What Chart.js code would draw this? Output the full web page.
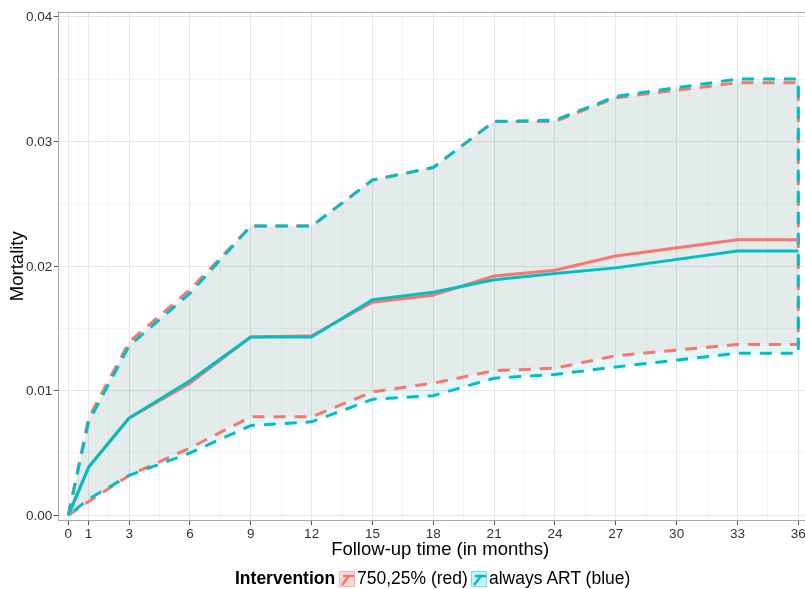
<!DOCTYPE html>
<html>
<head>
<meta charset="utf-8">
<script src="https://cdn.jsdelivr.net/npm/chart.js@4.4.1/dist/chart.umd.min.js"></script>
<style>
html,body{margin:0;padding:0;background:#fff;overflow:hidden}
#wrap{position:relative;width:805px;height:589px;overflow:hidden}
#c{position:absolute;left:0;top:0}
.lg{position:absolute;font-family:'Liberation Sans',Arial,sans-serif;font-size:17.5px;color:#000;white-space:nowrap;line-height:1}
.lg.title{font-weight:bold}
.key{position:absolute}
</style>
</head>
<body>
<div id="wrap">
<canvas id="c" width="822" height="589"></canvas>
<div id="legend"></div>
</div>
<script>
// ---- data ----
const months    = [0, 1, 3, 6, 9, 12, 15, 18, 21, 24, 27, 33, 36];
const redMean   = [0, 0.00385, 0.0078, 0.0106, 0.0143, 0.0144, 0.0171, 0.01766, 0.0192, 0.01966, 0.0208, 0.0221, 0.0221];
const blueMean  = [0, 0.00385, 0.0078, 0.0108, 0.0143, 0.0143, 0.0173, 0.0179, 0.0189, 0.0194, 0.01985, 0.0212, 0.0212];
const redUpper  = [0, 0.0078, 0.0139, 0.0181, 0.0232, 0.0232, 0.0269, 0.0279, 0.0316, 0.0316, 0.0335, 0.0347, 0.0347];
const blueUpper = [0, 0.0075, 0.0136, 0.0178, 0.0232, 0.0232, 0.0269, 0.0279, 0.0316, 0.0317, 0.0336, 0.0350, 0.0350];
const redLower  = [0, 0.0011, 0.0032, 0.0054, 0.0079, 0.0079, 0.0099, 0.0106, 0.0116, 0.0118, 0.0128, 0.0137, 0.0137];
const blueLower = [0, 0.0013, 0.0032, 0.0050, 0.0072, 0.0075, 0.0093, 0.0096, 0.0110, 0.0113, 0.0119, 0.0130, 0.0130];

const seriesNames = ['750,25% (red)', 'always ART (blue)'];
const legendTitle = 'Intervention';
const xTickLabels = [0, 1, 3, 6, 9, 12, 15, 18, 21, 24, 27, 30, 33, 36];
const yTickLabels = [0, 0.01, 0.02, 0.03, 0.04];
const xAxisTitle = 'Follow-up time (in months)';
const yAxisTitle = 'Mortality';

// ---- styling ----
const FONT = "'Liberation Sans', Arial, sans-serif";
const RED = '#F8766D', BLUE = '#00BFC4';
const RED_FILL = 'rgba(248,118,109,0.11)', BLUE_FILL = 'rgba(0,191,196,0.11)';

function withMinor(major) {
  const out = [];
  major.forEach((v, i) => {
    out.push({value: v, isMajor: true});
    if (i < major.length - 1) out.push({value: (v + major[i + 1]) / 2, isMajor: false});
  });
  return out;
}
const pts = (xs, ys) => xs.map((x, i) => ({x: x, y: ys[i]}));
const ribbon = (up, lo) => pts(months, up).concat(pts(months, lo).reverse());

const lineBase = {pointRadius: 0, tension: 0, borderWidth: 3, borderCapStyle: 'butt', borderJoinStyle: 'round'};

const datasets = [
  Object.assign({}, lineBase, {label: seriesNames[0] + ' band', data: ribbon(redUpper, redLower), borderColor: RED, borderDash: [12, 9], fill: 'shape', backgroundColor: RED_FILL, order: 3}),
  Object.assign({}, lineBase, {label: seriesNames[1] + ' band', data: ribbon(blueUpper, blueLower), borderColor: BLUE, borderDash: [12, 9], fill: 'shape', backgroundColor: BLUE_FILL, order: 2}),
  Object.assign({}, lineBase, {label: seriesNames[0], data: pts(months, redMean), borderColor: RED, fill: false, order: 1}),
  Object.assign({}, lineBase, {label: seriesNames[1], data: pts(months, blueMean), borderColor: BLUE, fill: false, order: 0})
];

const gridColor = c => (c.tick && c.tick.isMajor) ? '#e6e6e6' : '#f4f4f4';
const tickColor = c => (c.tick && c.tick.isMajor) ? '#555555' : 'rgba(0,0,0,0)';

const topBorder = {
  id: 'topBorder',
  afterDraw(chart) {
    const {ctx, chartArea: a} = chart;
    ctx.save();
    ctx.strokeStyle = '#a8a8a8';
    ctx.lineWidth = 1;
    ctx.beginPath();
    const y = Math.round(a.top) + 0.5;
    ctx.moveTo(a.left, y);
    ctx.lineTo(a.right, y);
    ctx.stroke();
    ctx.restore();
  }
};

new Chart(document.getElementById('c'), {
  type: 'line',
  data: {datasets: datasets},
  plugins: [topBorder],
  options: {
    responsive: false,
    animation: false,
    devicePixelRatio: 1,
    layout: {padding: {left: 0, top: 11.7, right: 0, bottom: 27.9}},
    plugins: {legend: {display: false}, tooltip: {enabled: false}, filler: {drawTime: 'beforeDatasetsDraw'}},
    scales: {
      x: {
        type: 'linear', min: -0.493, max: 37.169,
        afterBuildTicks: s => { s.ticks = withMinor(xTickLabels); },
        afterFit: s => { s.height = 40.4; s.paddingLeft = 0; s.paddingRight = 0; },
        ticks: {autoSkip: false, maxRotation: 0, padding: 0.7, color: '#333', font: {family: FONT, size: 13.5},
          callback: (v, i, t) => t[i].isMajor ? String(v) : ''},
        grid: {color: gridColor, lineWidth: 1, tickLength: 4.5, tickColor: tickColor, tickWidth: 1},
        border: {display: true, color: '#a8a8a8', width: 1},
        title: {display: true, text: xAxisTitle, color: '#000', font: {family: FONT, size: 18.5}, padding: {top: 0, bottom: 0}}
      },
      y: {
        type: 'linear', min: -0.000433, max: 0.040401,
        afterBuildTicks: s => { s.ticks = withMinor(yTickLabels); },
        afterFit: s => { s.width = 58.3; s.paddingTop = 0; s.paddingBottom = 0; },
        ticks: {autoSkip: false, padding: 1.5, labelOffset: 1, color: '#333', font: {family: FONT, size: 13.5},
          callback: (v, i, t) => t[i].isMajor ? v.toFixed(2) : ''},
        grid: {color: gridColor, lineWidth: 1, tickLength: 4.5, tickColor: tickColor, tickWidth: 1},
        border: {display: true, color: '#a8a8a8', width: 1},
        title: {display: true, text: yAxisTitle, color: '#000', font: {family: FONT, size: 18.5}, padding: {top: 6.5, bottom: 0}}
      }
    }
  }
});

// ---- legend (HTML text) ----
const legend = document.getElementById('legend');
const legendColors = [[RED, 'rgba(248,118,109,0.28)', 'rgba(248,118,109,0.45)'], [BLUE, 'rgba(0,191,196,0.22)', 'rgba(0,191,196,0.45)']];
const keyLeft = [339, 471];
const textLeft = [357, 489];
function addText(txt, left, cls) {
  const d = document.createElement('div');
  d.className = 'lg ' + (cls || '');
  d.textContent = txt;
  d.style.left = left + 'px';
  d.style.top = '570.2px';
  legend.appendChild(d);
}
addText(legendTitle, 235, 'title');
seriesNames.forEach((name, i) => {
  const [col, fill, edge] = legendColors[i];
  const ns = 'http://www.w3.org/2000/svg';
  const svg = document.createElementNS(ns, 'svg');
  svg.setAttribute('class', 'key');
  svg.setAttribute('width', '16');
  svg.setAttribute('height', '16');
  svg.style.left = keyLeft[i] + 'px';
  svg.style.top = '570.5px';
  svg.innerHTML = '<rect x="0.5" y="0.5" width="15" height="15" fill="' + fill + '" stroke="' + edge + '" stroke-width="1"/>' +
    '<path d="M4 5 H15 M10 5 L3 14" fill="none" stroke="' + col + '" stroke-width="2.6"/>';
  legend.appendChild(svg);
  addText(name, textLeft[i]);
});
</script>
</body>
</html>
